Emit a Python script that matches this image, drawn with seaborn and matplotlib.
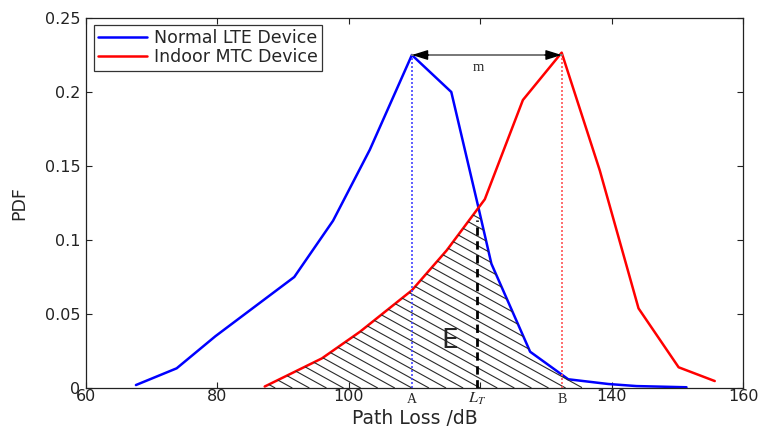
import numpy as np
import pandas as pd
import matplotlib
matplotlib.use("Agg")
import matplotlib.pyplot as plt
import seaborn as sns
from matplotlib.collections import LineCollection

# ---- data ----
lte_x = [67.6, 73.8, 79.7, 85.7, 91.7, 97.6, 103.2, 109.6, 115.6, 119.7, 121.7, 127.6, 133.4, 139.5, 143.8, 151.4]
lte_y = [0.002, 0.0133, 0.035, 0.055, 0.075, 0.113, 0.161, 0.225, 0.200, 0.1225, 0.084, 0.0245, 0.0059, 0.0027, 0.0013, 0.0005]

mtc_x = [87.2, 91.1, 95.9, 101.7, 109.6, 114.9, 120.7, 126.5, 132.4, 138.2, 144.1, 150.2, 155.7]
mtc_y = [0.001, 0.0095, 0.020, 0.038, 0.066, 0.093, 0.1275, 0.1946, 0.2266, 0.147, 0.0538, 0.014, 0.0047]

series_names = ["Normal LTE Device", "Indoor MTC Device"]
x_ticks = [60, 80, 100, 120, 140, 160]
x_tick_labels = ["60", "80", "100", "", "140", "160"]
y_ticks = [0, 0.05, 0.1, 0.15, 0.2, 0.25]
y_tick_labels = ["0", "0.05", "0.1", "0.15", "0.2", "0.25"]
LT = 119.5          # threshold path loss L_T
E_END = 135.5       # right end of hatched region E

# ---- style ----
sns.set_theme(style="ticks")
plt.rcParams["font.family"] = ["DejaVu Sans"]
plt.rcParams["mathtext.fontset"] = "stix"
plt.rcParams["xtick.direction"] = "in"
plt.rcParams["ytick.direction"] = "in"

fig = plt.figure(figsize=(7.6, 4.28), dpi=100)
ax = fig.add_axes([86 / 760, 40 / 428, 657 / 760, 370 / 428])

df = pd.concat([
    pd.DataFrame({"x": lte_x, "y": lte_y, "s": series_names[0]}),
    pd.DataFrame({"x": mtc_x, "y": mtc_y, "s": series_names[1]}),
])
sns.lineplot(data=df, x="x", y="y", hue="s", palette=["#0000ff", "#ff0000"],
             sort=False, lw=1.8, ax=ax, estimator=None)

# hatched region E = area under min(red, blue)
xg = np.linspace(mtc_x[0], E_END, 600)
yg = np.minimum(np.interp(xg, mtc_x, mtc_y), np.interp(xg, lte_x, lte_y))
poly = ax.fill_between(xg, 0, yg, facecolor="none", edgecolor="none")
k = 0.55 * (657 / 100) / (370 / 0.25)   # slope in data units
segs = []
for c in np.arange(mtc_x[0] - 1, E_END + 80, 2.6):
    xs = np.array([mtc_x[0] - 5, c])
    segs.append(np.column_stack([xs, k * (c - xs)]))
lc = LineCollection(segs, colors="#2a2a2a", linewidths=0.8)
ax.add_collection(lc)
lc.set_clip_path(poly.get_paths()[0], ax.transData)

# reference lines
ia = int(np.argmax(lte_y)); ib = int(np.argmax(mtc_y))
A, yA = lte_x[ia], lte_y[ia]
B, yB = mtc_x[ib], mtc_y[ib]
ax.vlines(A, 0, yA, colors="#4444ff", linestyles=(0, (1.2, 1.2)), lw=1.2)
ax.vlines(B, 0, yB, colors="#ff5555", linestyles=(0, (1.2, 1.2)), lw=1.2)
yLT = float(np.minimum(np.interp(LT, mtc_x, mtc_y), np.interp(LT, lte_x, lte_y)))
ax.vlines(LT, 0, yLT - 0.007, colors="black", linestyles=(0, (3, 2)), lw=2.0)

# arrow m: gray shaft, black heads
ax.annotate("", xy=(B, yA), xytext=(A, yA),
            arrowprops=dict(arrowstyle="-", color="#777777", lw=1.4,
                            shrinkA=0, shrinkB=0))
for tip, dx in ((A, 12), (B, -12)):
    ax.annotate("", xy=(tip, yA), xytext=(dx, 0), textcoords="offset points",
                arrowprops=dict(arrowstyle="-|>,head_length=0.8,head_width=0.25",
                                color="black", lw=1.0, shrinkA=0, shrinkB=0))
ax.text((A + B) / 2 - 1.2, 0.2165, "m", family=["Liberation Serif", "DejaVu Serif"],
        fontsize=10.5, ha="center", va="center")
ax.text(115.4, 0.0318, "E", fontsize=19, ha="center", va="center")

# axes
ax.set_xlim(60, 160)
ax.set_ylim(0, 0.25)
ax.set_xticks(x_ticks)
ax.set_xticklabels(x_tick_labels, fontsize=11.5)
ax.set_yticks(y_ticks)
ax.set_yticklabels(y_tick_labels, fontsize=11.5)
ax.tick_params(top=True, right=True, length=4, width=0.8, colors="#222222")
ax.tick_params(axis="y", pad=4)
ax.tick_params(axis="x", pad=1)
ax.set_xlabel("Path Loss /dB", fontsize=13.5, labelpad=3)
ax.set_ylabel("PDF", fontsize=12.5, labelpad=12)
for s in ax.spines.values():
    s.set_visible(True)
    s.set_linewidth(0.9)
    s.set_color("#222222")

tr = ax.get_xaxis_transform()
serif = ["Liberation Serif", "DejaVu Serif"]
ax.text(A, -0.03, "A", transform=tr, ha="center", va="center", family=serif, fontsize=10)
ax.text(B, -0.03, "B", transform=tr, ha="center", va="center", family=serif, fontsize=10)
ax.text(LT, -0.03, "$L_T$", transform=tr, ha="center", va="center", fontsize=11.5)

leg = ax.legend(loc="upper left", bbox_to_anchor=(0.012, 0.981), borderaxespad=0,
                fontsize=12.5, frameon=True, fancybox=False, edgecolor="black",
                handlelength=2.8, borderpad=0.25, labelspacing=0.05, handletextpad=0.4)
leg.get_frame().set_linewidth(0.9)
leg.set_title(None)

fig.savefig("out.png", dpi=100, facecolor="white")
